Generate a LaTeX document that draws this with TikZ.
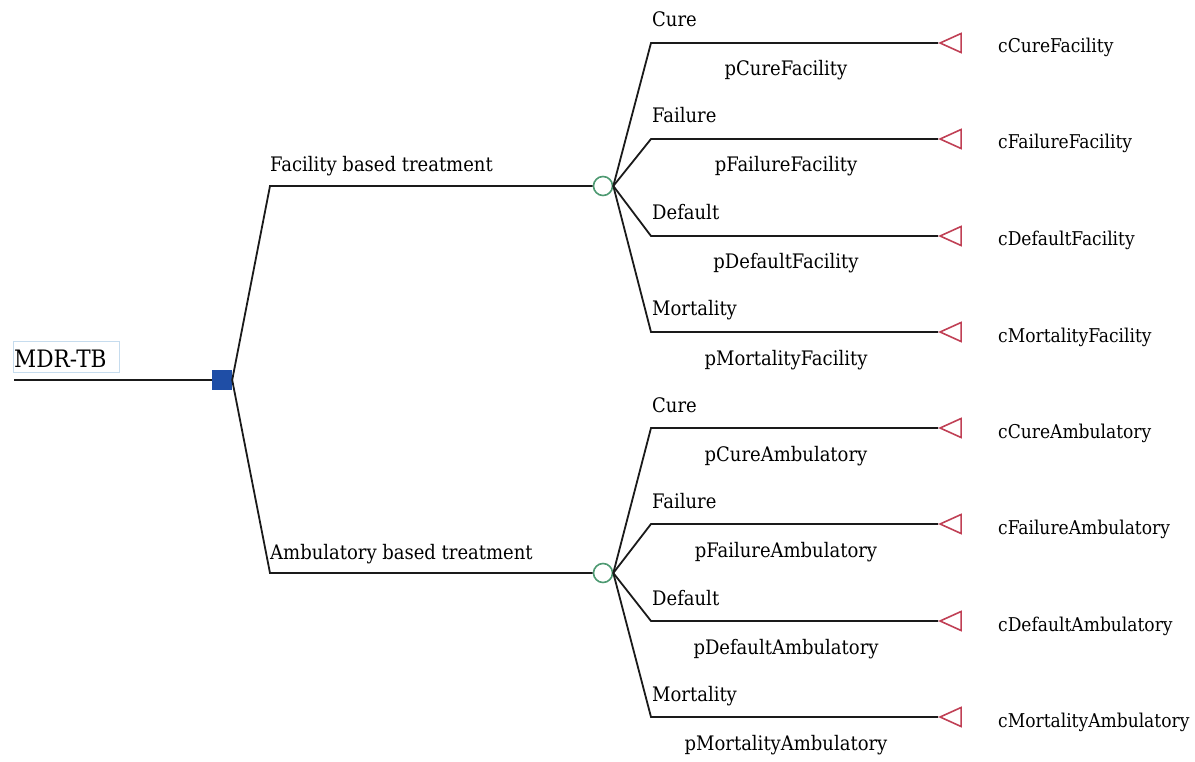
\documentclass[tikz,border=0pt]{standalone}
\usepackage{fontspec}
\setmainfont{DejaVu Serif Condensed}
\usetikzlibrary{shapes.geometric}
\definecolor{sqblue}{HTML}{1F4EA6}
\definecolor{chgreen}{HTML}{4E9A72}
\definecolor{termred}{HTML}{C04055}
\definecolor{boxblue}{HTML}{C6DCEE}
\definecolor{ink}{HTML}{1A1A1A}
\begin{document}
\begin{tikzpicture}[x=1pt,y=-1pt,
  edge/.style={draw=ink, line width=1.8pt},
  decision/.style={rectangle, fill=sqblue, minimum size=20pt, inner sep=0pt},
  chance/.style={circle, draw=chgreen, line width=1.6pt, fill=white, minimum size=19pt, inner sep=0pt},
  terminal/.style={isosceles triangle, shape border rotate=180, isosceles triangle stretches,
    draw=termred, line width=1.6pt, minimum width=19pt, minimum height=21pt, inner sep=0pt},
  branchlbl/.style={anchor=base west, inner sep=0pt, font=\fontsize{20}{24}\selectfont},
  problbl/.style={anchor=base, inner sep=0pt, font=\fontsize{20}{24}\selectfont},
  costlbl/.style={anchor=base west, inner sep=0pt, font=\fontsize{19}{23}\selectfont},
  rootlbl/.style={draw=boxblue, line width=1pt, anchor=north west, minimum width=106pt,
    minimum height=31pt, inner sep=0pt}
]
\useasboundingbox (0,0) rectangle (1195,762);

% root: label box, incoming line and decision node
\node[rootlbl] (root) at (13,341) {};
\node[anchor=base west, inner sep=0pt, font=\fontsize{24}{28}\selectfont] (rootname) at (14,367) {MDR-TB};
\coordinate (start) at (14,380);
\node[decision] (dec) at (222,380) {};
\draw[edge] (start) -- (dec.west);

% treatment strategies
\node[chance] (cf) at (603,186) {};
\node[chance] (ca) at (603,573) {};
\coordinate (kf) at (270,186);
\coordinate (ka) at (270,573);
\draw[edge] (dec.east) -- (kf) -- (cf.west);
\draw[edge] (dec.east) -- (ka) -- (ca.west);
\node[branchlbl] (lf) at (270,172) {Facility based treatment};
\node[branchlbl] (la) at (270,559) {Ambulatory based treatment};

% outcomes of facility based treatment
\foreach \nm/\y/\lab/\pl/\cl in {
  f1/43/Cure/pCureFacility/cCureFacility,
  f2/139/Failure/pFailureFacility/cFailureFacility,
  f3/236/Default/pDefaultFacility/cDefaultFacility,
  f4/332/Mortality/pMortalityFacility/cMortalityFacility}{
  \coordinate (k\nm) at (651,\y);
  \node[terminal, anchor=apex] (t\nm) at (938,\y) {};
  \draw[edge] (cf.east) -- (k\nm) -- (t\nm.apex);
  \node[branchlbl] (b\nm) at (652,\y-16) {\lab};
  \node[problbl] (p\nm) at (786,\y+33) {\pl};
  \node[costlbl] (c\nm) at (998,\y+10) {\cl};
}

% outcomes of ambulatory based treatment
\foreach \nm/\y/\lab/\pl/\cl in {
  a1/428/Cure/pCureAmbulatory/cCureAmbulatory,
  a2/524/Failure/pFailureAmbulatory/cFailureAmbulatory,
  a3/621/Default/pDefaultAmbulatory/cDefaultAmbulatory,
  a4/717/Mortality/pMortalityAmbulatory/cMortalityAmbulatory}{
  \coordinate (k\nm) at (651,\y);
  \node[terminal, anchor=apex] (t\nm) at (938,\y) {};
  \draw[edge] (ca.east) -- (k\nm) -- (t\nm.apex);
  \node[branchlbl] (b\nm) at (652,\y-16) {\lab};
  \node[problbl] (p\nm) at (786,\y+33) {\pl};
  \node[costlbl] (c\nm) at (998,\y+10) {\cl};
}
\end{tikzpicture}
\end{document}
